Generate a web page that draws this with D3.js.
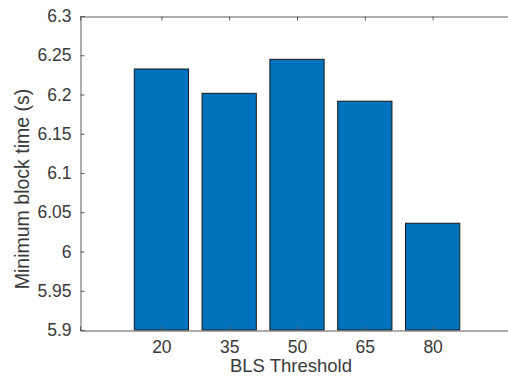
<!DOCTYPE html>
<html><head><meta charset="utf-8">
<script src="https://cdn.jsdelivr.net/npm/d3@7"></script>
<style>body{margin:0;background:#fff;} text{font-family:"Liberation Sans",Arial,sans-serif;fill:#3a3a3a;}</style>
</head><body>
<script>
const categories = [20, 35, 50, 65, 80];
const values = [6.2325, 6.2015, 6.2448, 6.1915, 6.036];
const yTicks = [5.9, 5.95, 6, 6.05, 6.1, 6.15, 6.2, 6.25, 6.3];
const xLabel = "BLS Threshold";
const yLabel = "Minimum block time (s)";

const W = 508, H = 377;
const svg = d3.select("body").append("svg").attr("width", W).attr("height", H);
const x = d3.scaleLinear().domain([2, 98]).range([80, 514]);
const y = d3.scaleLinear().domain([5.9, 6.3]).range([330, 16]);
const bw = x(12) - x(0);

svg.selectAll("rect.bar").data(values).enter().append("rect").attr("class", "bar")
  .attr("x", (d, i) => x(categories[i]) - bw / 2)
  .attr("y", d => y(d))
  .attr("width", bw)
  .attr("height", d => y(5.9) - y(d))
  .attr("fill", "#0072BD").attr("stroke", "#1a1a1a").attr("stroke-width", 1);

const ax = "#5a5a5a";
const yAxis = d3.axisLeft(y).tickValues(yTicks).tickSize(-4).tickPadding(9).tickFormat(d3.format("~g"));
const gy = svg.append("g").attr("transform", "translate(80.5,0)").call(yAxis);
gy.select(".domain").attr("stroke", ax);
gy.selectAll(".tick line").attr("stroke", ax);
gy.selectAll("text").style("font-size", "17.5px").attr("fill", "#3a3a3a");

const xAxis = d3.axisBottom(x).tickValues(categories).tickSize(-4).tickPadding(10).tickFormat(d3.format("d"));
const gx = svg.append("g").attr("transform", "translate(0,330.5)").call(xAxis);
gx.select(".domain").attr("stroke", ax);
gx.selectAll(".tick line").attr("stroke", ax);
gx.selectAll("text").style("font-size", "17.5px").attr("fill", "#3a3a3a");

const xTop = d3.axisTop(x).tickValues(categories).tickSize(-4).tickFormat("");
const gt = svg.append("g").attr("transform", "translate(0,16.5)").call(xTop);
gt.select(".domain").attr("stroke", ax);
gt.selectAll(".tick line").attr("stroke", ax);

svg.append("text").attr("x", 291).attr("y", 372).attr("text-anchor", "middle")
  .style("font-size", "18.5px").text(xLabel);
svg.append("text").attr("transform", "translate(29,189) rotate(-90)")
  .attr("text-anchor", "middle").style("font-size", "19.5px").text(yLabel);
</script>
</body></html>
